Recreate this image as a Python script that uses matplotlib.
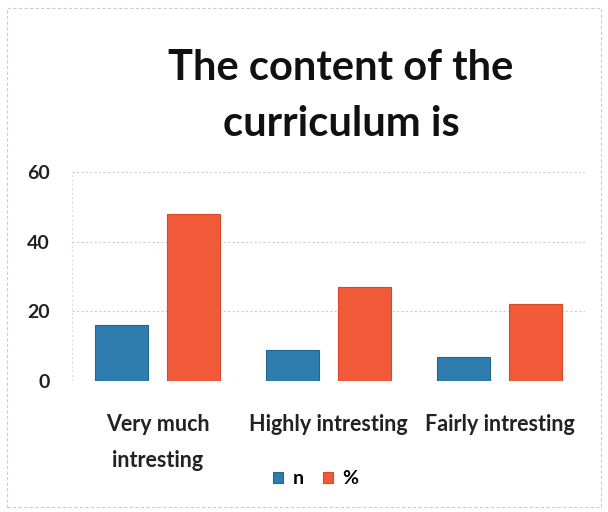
import matplotlib
matplotlib.use("Agg")
import matplotlib.pyplot as plt
import numpy as np
from matplotlib.patches import Rectangle

categories = ["Very much\nintresting", "Highly intresting", "Fairly intresting"]
n_values = [16, 9, 7]
pct_values = [48, 27, 22]
series_names = ["n", "%"]
yticks = [0, 20, 40, 60]

plt.rcParams['font.family'] = ['Lato', 'DejaVu Sans']

fig = plt.figure(figsize=(6.08, 5.12), dpi=100)
fig.patch.set_facecolor('white')
ax = fig.add_axes([72/608, 1-381/512, (585-72)/608, (381-172)/512])

x = np.arange(len(categories))
w = 0.31
gap = 0.11
c_blue = '#2F7DAE'
c_red = '#F05A38'
b1 = ax.bar(x - (w+gap)/2, n_values, w, color=c_blue, edgecolor='#23658F', linewidth=0.8, label=series_names[0])
b2 = ax.bar(x + (w+gap)/2, pct_values, w, color=c_red, edgecolor='#D8482A', linewidth=0.8, label=series_names[1])

ax.set_ylim(0, 60)
ax.set_xlim(-0.5, 2.5)
ax.set_yticks(yticks)
ax.set_yticklabels([str(t) for t in yticks], fontsize=14, fontweight='bold', color='#222222')
ax.set_xticks(x)
ax.set_xticklabels(categories, fontsize=15.5, fontweight='bold', color='#222222', linespacing=1.85)
ax.tick_params(axis='y', length=0, pad=16)
ax.tick_params(axis='x', length=0, pad=24)
for s in ax.spines.values():
    s.set_visible(False)
ax.yaxis.grid(True, color='#D8C8C8', linestyle=(0, (2, 2)), linewidth=0.8)
ax.set_axisbelow(True)
ax.axvline(-0.5, color='#E6DADA', linewidth=0.8, linestyle=(0, (2, 2)))

fig.text(0.561, 1-68/512, "The content of the", ha='center', va='center', fontsize=30, fontweight='bold', color='#111111')
fig.text(0.561, 1-124/512, "curriculum is", ha='center', va='center', fontsize=30, fontweight='bold', color='#111111')

leg = fig.legend(handles=[b1, b2], labels=series_names, loc='center', bbox_to_anchor=(316/608, 1-479/512),
                 ncol=2, frameon=False, handlelength=0.5, handleheight=0.5,
                 handletextpad=0.5, columnspacing=1.0, prop={'weight': 'bold', 'size': 14})

fig.patches.append(Rectangle((0.012, 0.01), 0.976, 0.975, transform=fig.transFigure,
                             fill=False, edgecolor='#CCCCCC', linewidth=0.8, linestyle=(0, (3, 2))))

fig.savefig("out.png", dpi=100)
